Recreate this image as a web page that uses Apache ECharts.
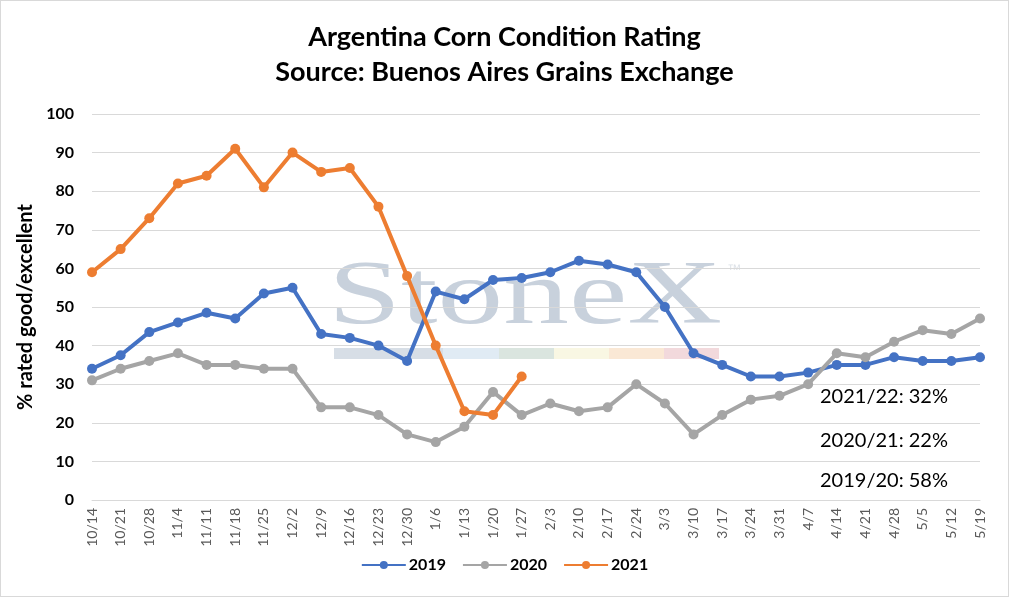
<!DOCTYPE html>
<html>
<head>
<meta charset="utf-8">
<script src="https://cdn.jsdelivr.net/npm/echarts@6/dist/echarts.min.js"></script>
<style>
  html, body { margin: 0; padding: 0; background: #fff; }
  #chart { width: 1007px; height: 595px; border: 1px solid #d9d9d9; }
</style>
</head>
<body>
<div id="chart"></div>
<script>
// 周次
const weeks = ['10/14', '10/21', '10/28', '11/4', '11/11', '11/18', '11/25', '12/2', '12/9', '12/16',
  '12/23', '12/30', '1/6', '1/13', '1/20', '1/27', '2/3', '2/10', '2/17', '2/24', '3/3', '3/10',
  '3/17', '3/24', '3/31', '4/7', '4/14', '4/21', '4/28', '5/5', '5/12', '5/19']
const seriesNames = ['2019', '2020', '2021']
const rating2019 = [34, 37.5, 43.5, 46, 48.5, 47, 53.5, 55, 43, 42, 40, 36, 54, 52, 57, 57.5,
  59, 62, 61, 59, 50, 38, 35, 32, 32, 33, 35, 35, 37, 36, 36, 37]
const rating2020 = [31, 34, 36, 38, 35, 35, 34, 34, 24, 24, 22, 17, 15, 19, 28, 22,
  25, 23, 24, 30, 25, 17, 22, 26, 27, 30, 38, 37, 41, 44, 43, 47]
const rating2021 = [59, 65, 73, 82, 84, 91, 81, 90, 85, 86, 76, 58, 40, 23, 22, 32]
const colors = ['#4472C4', '#A5A5A5', '#ED7D31']
const notes = ['2021/22: 32%', '2020/21: 22%', '2019/20: 58%']

const font = 'Lato, "Liberation Sans", sans-serif'
const scale = 1

const series = [rating2019, rating2020, rating2021].map((d, i) => ({
  name: seriesNames[i],
  type: 'line',
  symbol: 'circle',
  symbolSize: 10,
  lineStyle: { width: 4, color: colors[i] },
  itemStyle: { color: colors[i] },
  z: 3 + i,
  data: d
}))

// 水印 + 色条
const stripColors = ['#d3dae3', '#dde9f3', '#d6e2dc', '#f8f6e0', '#f9e6d0', '#f1d5d8']
const stripX = [333, 442, 498, 553, 608, 663, 718]
const graphic = [{
  type: 'text',
  left: 327,
  top: 253,
  z: -10,
  scaleX: 1.46,
  style: {
    text: 'StoneX',
    font: '90px "Liberation Serif", "DejaVu Serif", serif',
    fill: 'rgba(190,201,214,0.85)'
  }
}, {
  type: 'text',
  left: 726,
  top: 262,
  z: -10,
  style: { text: '™', font: '14px "Liberation Sans", sans-serif', fill: '#dde2e8' }
}]
stripColors.forEach((c, i) => {
  graphic.push({
    type: 'rect',
    z: -10,
    shape: { x: stripX[i], y: 347, width: stripX[i + 1] - stripX[i], height: 11 },
    style: { fill: c, opacity: 0.9 }
  })
})
notes.forEach((t, i) => {
  graphic.push({
    type: 'text',
    left: 819,
    top: [386, 430, 470][i],
    z: 10,
    style: { text: t, font: '20px ' + font, fill: '#000' }
  })
})

const option = {
  color: colors,
  textStyle: { fontFamily: font },
  title: {
    text: 'Argentina Corn Condition Rating\nSource: Buenos Aires Grains Exchange',
    left: 'center',
    top: 14,
    textStyle: {
      fontSize: 27 * scale,
      fontWeight: 'bold',
      color: '#000',
      lineHeight: 35,
      fontFamily: font
    }
  },
  legend: {
    bottom: 18,
    left: 'center',
    itemWidth: 44,
    itemHeight: 10,
    itemGap: 16,
    textStyle: { color: '#000', fontSize: 16, fontWeight: 'bold', fontFamily: font, padding: [0, 0, 0, -2] },
    data: seriesNames
  },
  grid: {
    left: 91,
    right: 28,
    top: 113,
    bottom: 96
  },
  xAxis: {
    type: 'category',
    boundaryGap: false,
    data: weeks,
    axisTick: { show: false },
    axisLine: { show: true, lineStyle: { color: '#d9d9d9', width: 1 } },
    axisLabel: {
      interval: 0,
      rotate: 90,
      margin: 8,
      color: '#595959',
      fontSize: 14,
      fontFamily: font
    }
  },
  yAxis: {
    type: 'value',
    min: 0,
    max: 100,
    interval: 10,
    name: '% rated good/excellent',
    nameLocation: 'middle',
    nameGap: 52,
    nameTextStyle: { color: '#000', fontSize: 20, fontWeight: 'bold', fontFamily: font },
    axisLine: { show: false },
    axisTick: { show: false },
    axisLabel: { color: '#000', fontSize: 16, fontWeight: 'bold', margin: 18, fontFamily: font },
    splitLine: { lineStyle: { color: '#d9d9d9', width: 1 } }
  },
  graphic,
  series
}

const chart = echarts.init(document.getElementById('chart'))
chart.setOption(option, true)
</script>
</body>
</html>
